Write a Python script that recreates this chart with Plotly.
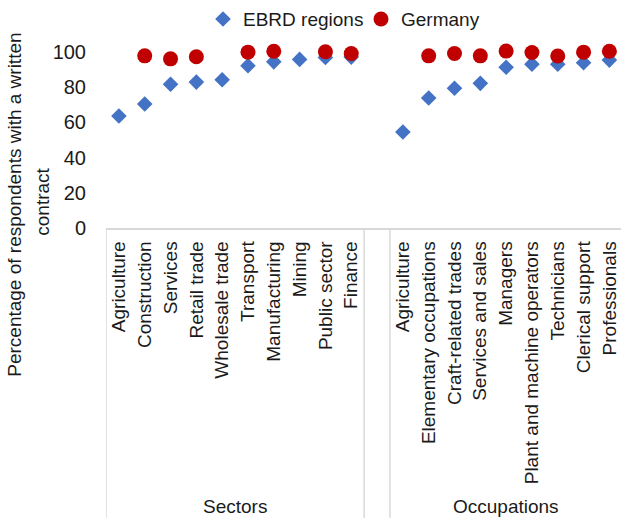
import plotly.graph_objects as go

sectors = ["Agriculture", "Construction", "Services", "Retail trade", "Wholesale trade",
           "Transport", "Manufacturing", "Mining", "Public sector", "Finance"]
occupations = ["Agriculture", "Elementary occupations", "Craft-related trades", "Services and sales",
               "Managers", "Plant and machine operators", "Technicians", "Clerical support", "Professionals"]

ebrd_sectors = [63.6, 70.4, 81.6, 82.8, 84.1, 92.1, 94.3, 95.7, 96.8, 97.0]
germany_sectors = [None, 97.7, 96.0, 97.2, None, 99.8, 100.3, None, 100.0, 99.0]
ebrd_occupations = [54.5, 73.8, 79.3, 82.1, 91.2, 93.0, 93.0, 93.8, 95.3]
germany_occupations = [None, 97.7, 99.0, 97.7, 100.4, 99.6, 97.6, 99.8, 100.3]

group_labels = ["Sectors", "Occupations"]
y_title_lines = ["Percentage of respondents with a written", "contract"]
y_ticks = [0, 20, 40, 60, 80, 100]

labels = sectors + [""] + occupations
xpos = list(range(len(labels)))
ebrd = ebrd_sectors + [None] + ebrd_occupations
germany = germany_sectors + [None] + germany_occupations

FONT = "Liberation Sans, Arial, sans-serif"
TXT = "#1a1a1a"

# body margin is removed by post_script, so figure pixels == screen pixels
W, H = 621, 518
plot_left, plot_bottom, plot_top = 106, 228.3, 42.9
L = plot_left
T = plot_top
B = H - plot_bottom
R = 0
plot_w = W - L - R
plot_h = H - T - B


def px_to_paper(xs, ys):
    return (xs - L) / plot_w, (H - B - ys) / plot_h


fig = go.Figure()
fig.add_trace(go.Scatter(x=xpos, y=ebrd, mode="markers", name="EBRD regions",
                         marker=dict(symbol="diamond", size=12, color="#4472C4"),
                         cliponaxis=False, legend="legend"))
fig.add_trace(go.Scatter(x=xpos, y=germany, mode="markers", name="Germany",
                         marker=dict(symbol="circle", size=15, color="#C00000"),
                         cliponaxis=False, legend="legend2"))

n_sec = len(sectors)
seps = [-0.5, n_sec - 0.5, n_sec + 0.5, len(labels) - 0.5]
for s in seps:
    fig.add_shape(type="line", xref="x", yref="paper", x0=s, x1=s, y0=0, y1=-1.7,
                  line=dict(color="#d9d9d9", width=1.5))

_, gy = px_to_paper(0, 507)
fig.add_annotation(x=(n_sec - 1) / 2, y=gy, xref="x", yref="paper", text=group_labels[0],
                   showarrow=False, xanchor="center", yanchor="middle",
                   font=dict(size=19, color=TXT, family=FONT))
fig.add_annotation(x=n_sec + 1 + (len(occupations) - 1) / 2, y=gy, xref="x", yref="paper",
                   text=group_labels[1], showarrow=False, xanchor="center", yanchor="middle",
                   font=dict(size=19, color=TXT, family=FONT))

ax1, ay1 = px_to_paper(15, 205)
ax2, ay2 = px_to_paper(43, 202)
fig.add_annotation(x=ax1, y=ay1, xref="paper", yref="paper", text=y_title_lines[0],
                   showarrow=False, textangle=-90, xanchor="center", yanchor="middle",
                   font=dict(size=19, color=TXT, family=FONT))
fig.add_annotation(x=ax2, y=ay2, xref="paper", yref="paper", text=y_title_lines[1],
                   showarrow=False, textangle=-90, xanchor="center", yanchor="middle",
                   font=dict(size=19, color=TXT, family=FONT))

l1x, l1y = px_to_paper(203, 19)
l2x, l2y = px_to_paper(361, 19)
legend_common = dict(orientation="h", yanchor="middle", xanchor="left",
                     font=dict(size=19, color=TXT, family=FONT), itemwidth=30,
                     bgcolor="rgba(0,0,0,0)", borderwidth=0)
fig.update_layout(
    width=W, height=H,
    margin=dict(l=L, r=R, t=T, b=B, autoexpand=False),
    paper_bgcolor="white", plot_bgcolor="white",
    font=dict(family=FONT, size=19, color=TXT),
    showlegend=True,
    legend=dict(x=l1x, y=l1y, **legend_common),
    legend2=dict(x=l2x, y=l2y, **legend_common),
    xaxis=dict(range=[-0.5, 19.45], tickmode="array", tickvals=xpos, ticktext=labels,
               tickangle=-90, showgrid=False, zeroline=False, showline=True,
               linecolor="#d9d9d9", linewidth=1.5, ticks="", automargin=False,
               ticklabelstandoff=4, tickfont=dict(size=19), ticklabeloverflow="allow"),
    yaxis=dict(range=[0, 105], tickvals=y_ticks, showgrid=False, zeroline=False,
               showline=False, ticks="", ticklabelstandoff=19, automargin=False,
               tickfont=dict(size=20)),
)

fig.write_html("out.html", config={"displayModeBar": False},
               post_script="document.body.style.margin='0px';document.body.style.overflow='hidden';")
